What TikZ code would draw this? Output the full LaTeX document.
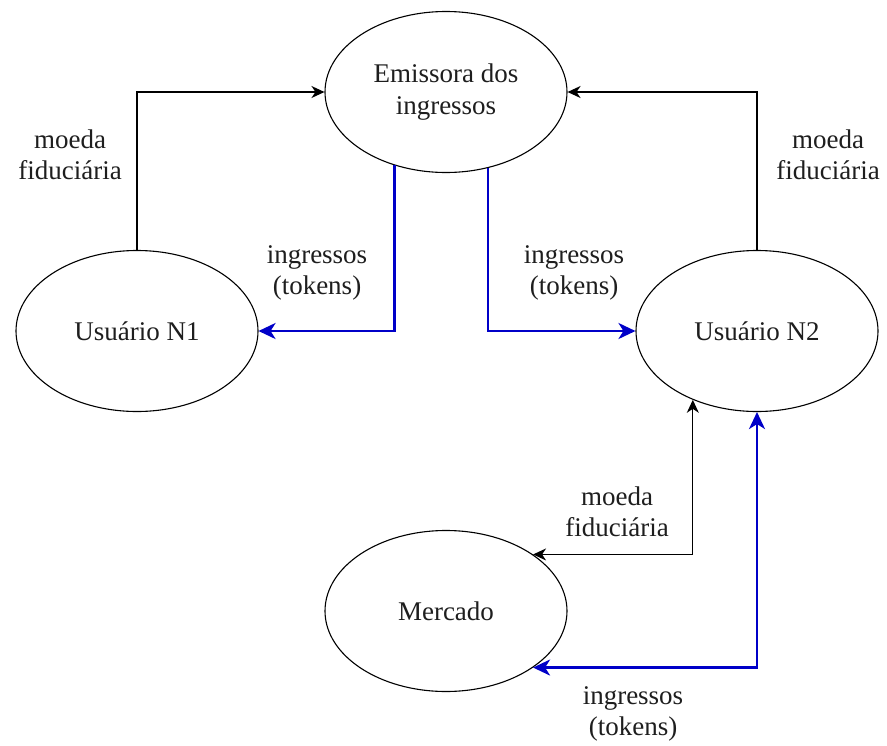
\documentclass[tikz,border=0pt]{standalone}
\usepackage{fontspec}
\IfFontExistsTF{LiberationSerif-Regular.ttf}
  {\setmainfont{LiberationSerif-Regular.ttf}[Ligatures=TeX]}
  {}
\usetikzlibrary{arrows.meta,shapes.geometric}
\definecolor{tokenblue}{RGB}{0,0,200}
\definecolor{inkgray}{RGB}{30,30,30}
\begin{document}
\begin{tikzpicture}[x=1pt,y=-1pt,
  party/.style={ellipse,draw=black,line width=1.1pt,minimum width=242pt,minimum height=161pt,inner sep=0pt,
    align=center,text=inkgray,font=\rmfamily\fontsize{27}{32}\selectfont},
  money/.style={draw=black,line width=1.3pt,-{Stealth[length=13pt,width=12pt,inset=4pt]}},
  moneyboth/.style={draw=black,line width=1.3pt,{Stealth[length=13pt,width=12pt,inset=4pt]}-{Stealth[length=13pt,width=12pt,inset=4pt]}},
  token/.style={draw=tokenblue,line width=2.6pt,-{Stealth[length=17pt,width=16pt,inset=5pt]}},
  tokenboth/.style={draw=tokenblue,line width=2.6pt,{Stealth[length=17pt,width=16pt,inset=5pt]}-{Stealth[length=17pt,width=16pt,inset=5pt]}},
  lbl/.style={align=center,text=inkgray,font=\rmfamily\fontsize{27}{31}\selectfont,inner sep=0pt}]
  \useasboundingbox (0,0) rectangle (887,745);

  % parties
  \node[party] (em) at (446,92) {Emissora dos\\ingressos};
  \node[party] (n1) at (137,331) {Usuário N1};
  \node[party] (n2) at (757,331) {Usuário N2};
  \node[party] (mk) at (446,611) {Mercado};

  % payments in fiat money
  \draw[money] (n1.north) |- (em.west);
  \draw[money] (n2.north) |- (em.east);
  \draw[moneyboth] (mk.33) -| (n2.-133);

  % ticket tokens
  \draw[token] (em.-125) |- (n1.east);
  \draw[token] (em.-61) |- (n2.west);
  \draw[tokenboth] (mk.-33) -| (n2.south);

  % labels
  \node[lbl] (l1) at (70,155) {moeda\\fiduciária};
  \node[lbl] (l2) at (828,155) {moeda\\fiduciária};
  \node[lbl] (l3) at (617,512) {moeda\\fiduciária};
  \node[lbl] (t1) at (317,273) {ingressos\\(tokens)};
  \node[lbl] (t2) at (574,273) {ingressos\\(tokens)};
  \node[lbl] (t3) at (633,714) {ingressos\\(tokens)};
\end{tikzpicture}
\end{document}
